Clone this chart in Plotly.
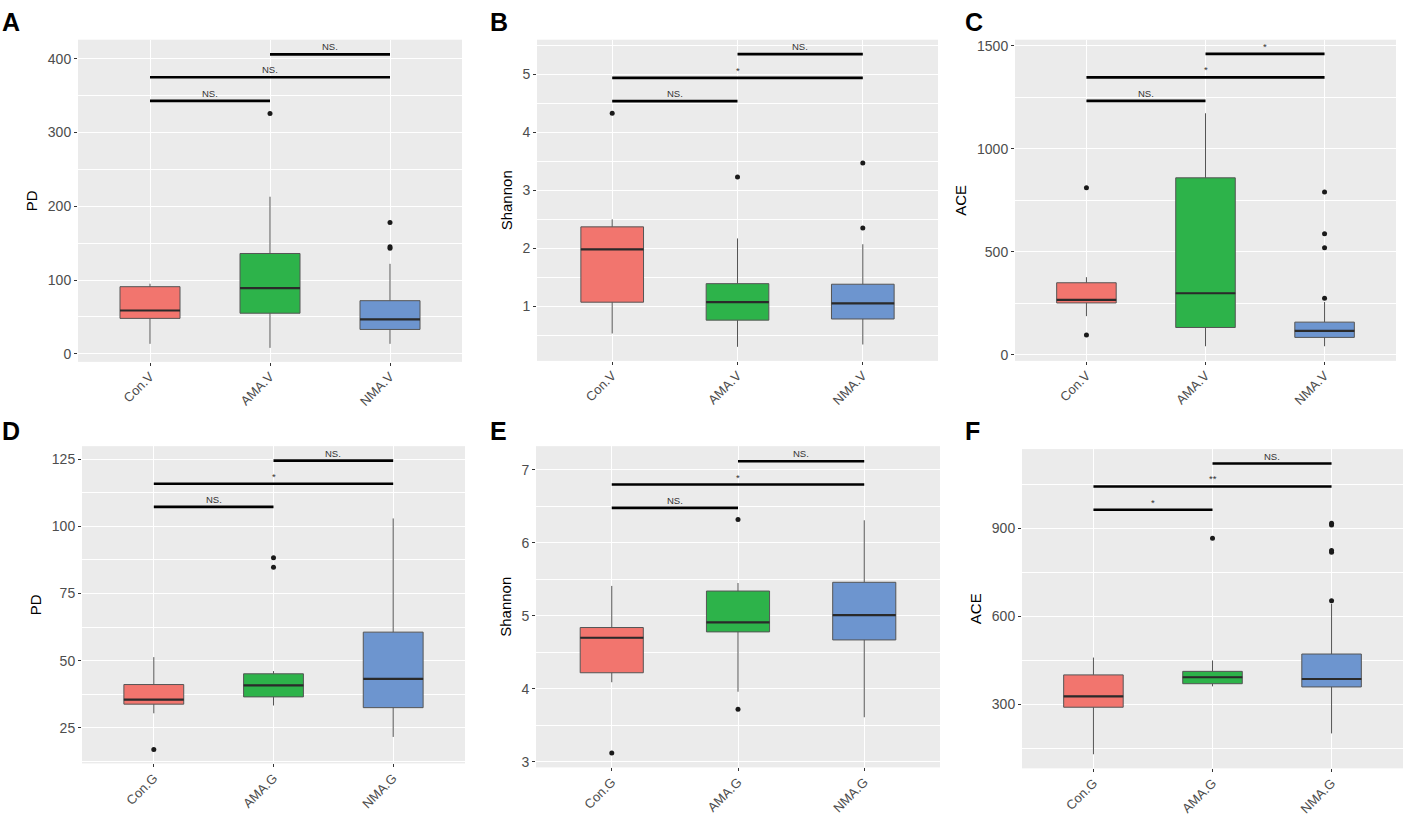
import plotly.graph_objects as go

W, H = 1403, 816

groups_v = ['Con.V', 'AMA.V', 'NMA.V']
groups_g = ['Con.G', 'AMA.G', 'NMA.G']
fill_colors = ['#F2756E', '#2DB34A', '#6D95CF']
pairs = [(0, 1), (0, 2), (1, 2)]

# A - PD (V)
a_lower = [13.5, 8, 13.5]
a_q1 = [48, 55, 33]
a_median = [58.7, 89, 46.6]
a_q3 = [91, 136, 72]
a_upper = [95, 213, 122]
a_outliers = [[], [326], [178, 145, 143]]
a_sig_y = [343, 375, 406]
a_sig = ['NS.', 'NS.', 'NS.']

# B - Shannon (V)
b_lower = [0.53, 0.30, 0.34]
b_q1 = [1.07, 0.76, 0.78]
b_median = [1.98, 1.07, 1.05]
b_q3 = [2.37, 1.39, 1.38]
b_upper = [2.50, 2.17, 2.07]
b_outliers = [[4.33], [3.23], [2.35, 3.47]]
b_sig_y = [4.54, 4.94, 5.35]
b_sig = ['NS.', '*', 'NS.']

# C - ACE (V)
c_lower = [188, 42, 42]
c_q1 = [252, 133, 85]
c_median = [267, 299, 117]
c_q3 = [350, 859, 159]
c_upper = [377, 1172, 257]
c_outliers = [[811, 96], [], [275, 520, 588, 790]]
c_sig_y = [1232, 1346, 1460]
c_sig = ['NS.', '*', '*']

# D - PD (G)
d_lower = [30.4, 33.3, 21.6]
d_q1 = [33.8, 36.5, 32.5]
d_median = [35.5, 40.8, 43.2]
d_q3 = [41.1, 45.1, 60.6]
d_upper = [51.3, 46.1, 102.9]
d_outliers = [[16.9], [88.3, 84.7], []]
d_sig_y = [107.2, 115.8, 124.4]
d_sig = ['NS.', '*', 'NS.']

# E - Shannon (G)
e_lower = [4.09, 3.96, 3.61]
e_q1 = [4.22, 4.78, 4.67]
e_median = [4.70, 4.91, 5.01]
e_q3 = [4.84, 5.34, 5.46]
e_upper = [5.41, 5.45, 6.31]
e_outliers = [[3.12], [6.32, 3.72], []]
e_sig_y = [6.48, 6.80, 7.12]
e_sig = ['NS.', '*', 'NS.']

# F - ACE (G)
f_lower = [131, 362, 202]
f_q1 = [291, 371, 360]
f_median = [328, 393, 387]
f_q3 = [401, 413, 472]
f_upper = [460, 450, 643]
f_outliers = [[], [866], [653, 818, 824, 911, 917]]
f_sig_y = [963, 1042, 1120]
f_sig = ['*', '**', 'NS.']

panels = [
	dict(letter='A', groups=groups_v, title='PD', lower=a_lower, q1=a_q1, median=a_median, q3=a_q3, upper=a_upper,
		outliers=a_outliers, sig_y=a_sig_y, sig=a_sig, box=(78, 462, 38, 363), yrange=[-11, 426], dtick=100, tick0=0, minor=50, letter_xy=(0, 4)),
	dict(letter='B', groups=groups_v, title='Shannon', lower=b_lower, q1=b_q1, median=b_median, q3=b_q3, upper=b_upper,
		outliers=b_outliers, sig_y=b_sig_y, sig=b_sig, box=(537, 938, 38, 362), yrange=[0.057, 5.6], dtick=1, tick0=0, minor=0.5, letter_xy=(488, 4)),
	dict(letter='C', groups=groups_v, title='ACE', lower=c_lower, q1=c_q1, median=c_median, q3=c_q3, upper=c_upper,
		outliers=c_outliers, sig_y=c_sig_y, sig=c_sig, box=(1015, 1396, 38, 362), yrange=[-29, 1529], dtick=500, tick0=0, minor=250, letter_xy=(963, 4)),
	dict(letter='D', groups=groups_g, title='PD', lower=d_lower, q1=d_q1, median=d_median, q3=d_q3, upper=d_upper,
		outliers=d_outliers, sig_y=d_sig_y, sig=d_sig, box=(82, 465, 448, 768), yrange=[11.75, 129.8], dtick=25, tick0=0, minor=12.5, letter_xy=(0, 417)),
	dict(letter='E', groups=groups_g, title='Shannon', lower=e_lower, q1=e_q1, median=e_median, q3=e_q3, upper=e_upper,
		outliers=e_outliers, sig_y=e_sig_y, sig=e_sig, box=(536, 940, 448, 772), yrange=[2.923, 7.326], dtick=1, tick0=0, minor=0.5, letter_xy=(488, 417)),
	dict(letter='F', groups=groups_g, title='ACE', lower=f_lower, q1=f_q1, median=f_median, q3=f_q3, upper=f_upper,
		outliers=f_outliers, sig_y=f_sig_y, sig=f_sig, box=(1022, 1403, 451, 773), yrange=[83, 1169], dtick=300, tick0=0, minor=150, letter_xy=(963, 417)),
]

FONT = 'Liberation Sans, Arial, sans-serif'
fig = go.Figure()
annotations = []
layout = {}

for n, p in enumerate(panels):
	suffix = '' if n == 0 else str(n + 1)
	xa, ya = 'x' + suffix, 'y' + suffix
	x0, x1, y0, y1 = p['box']
	for i in range(3):
		fig.add_trace(go.Box(
			x=[i], q1=[p['q1'][i]], median=[p['median'][i]], q3=[p['q3'][i]],
			lowerfence=[p['lower'][i]], upperfence=[p['upper'][i]],
			width=0.5, whiskerwidth=0, boxpoints=False,
			fillcolor=fill_colors[i], line=dict(color='#555555', width=1),
			xaxis=xa, yaxis=ya, showlegend=False, hoverinfo='skip',
		))
		# thicker median line, as in ggplot
		fig.add_trace(go.Scatter(
			x=[i - 0.25, i + 0.25], y=[p['median'][i]] * 2, mode='lines',
			line=dict(color='#2A2A2A', width=2.2), xaxis=xa, yaxis=ya,
			showlegend=False, hoverinfo='skip',
		))
		if p['outliers'][i]:
			fig.add_trace(go.Scatter(
				x=[i] * len(p['outliers'][i]), y=p['outliers'][i], mode='markers',
				marker=dict(color='#1A1A1A', size=5), xaxis=xa, yaxis=ya,
				showlegend=False, hoverinfo='skip',
			))
	# significance brackets
	for (a, b), yv, lab in zip(pairs, p['sig_y'], p['sig']):
		fig.add_trace(go.Scatter(
			x=[a, b], y=[yv, yv], mode='lines', line=dict(color='black', width=2.6),
			xaxis=xa, yaxis=ya, showlegend=False, hoverinfo='skip',
		))
		annotations.append(dict(
			x=(a + b) / 2, y=yv, xref=xa, yref=ya, text=lab, showarrow=False,
			yanchor='bottom', yshift=0, font=dict(family=FONT, size=9.5, color='#333333'),
		))
	layout['xaxis' + suffix] = dict(
		domain=[x0 / W, x1 / W], anchor=ya, range=[-0.6, 2.6],
		tickmode='array', tickvals=[0, 1, 2], ticktext=p['groups'], tickangle=-45,
		tickfont=dict(family=FONT, size=13, color='#4D4D4D'), ticklabelstandoff=-2,
		ticks='outside', ticklen=3, tickcolor='#333333',
		showgrid=True, gridcolor='white', gridwidth=1.1, zeroline=False, showline=False,
	)
	layout['yaxis' + suffix] = dict(
		domain=[1 - y1 / H, 1 - y0 / H], anchor=xa, range=p['yrange'],
		tick0=p['tick0'], dtick=p['dtick'],
		tickfont=dict(family=FONT, size=14, color='#4D4D4D'),
		ticks='outside', ticklen=3, tickcolor='#333333',
		showgrid=True, gridcolor='white', gridwidth=1.1, zeroline=False, showline=False,
		minor=dict(dtick=p['minor'], tick0=0, showgrid=True, gridcolor='white', gridwidth=0.5),
		title=dict(text=p['title'], font=dict(family=FONT, size=15, color='black'), standoff=6),
	)
	lx, ly = p['letter_xy']
	annotations.append(dict(
		x=lx / W, y=1 - ly / H, xref='paper', yref='paper', text='<b>' + p['letter'] + '</b>',
		showarrow=False, xanchor='left', yanchor='top',
		font=dict(family=FONT, size=25, color='black'),
	))

fig.update_layout(
	width=W, height=H, margin=dict(l=0, r=0, t=0, b=0),
	paper_bgcolor='white', plot_bgcolor='#EBEBEB',
	boxmode='overlay', showlegend=False, annotations=annotations,
	**layout,
)

# the page's default body margin would push the figure 8px down and right
fig.write_html('out.html', config={'displayModeBar': False},
	post_script="document.body.style.margin='0';")
